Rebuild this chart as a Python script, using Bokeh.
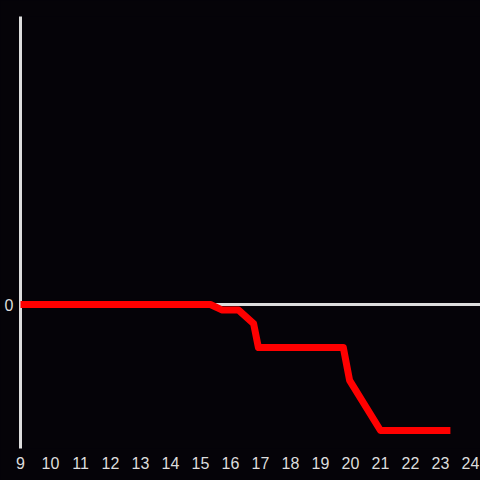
from bokeh.plotting import figure
from bokeh.models import FixedTicker, Span, Range1d
from bokeh.embed import file_html
from bokeh.resources import INLINE

# data (hour of day, value)
hours = [9, 15.33, 15.73, 16.27, 16.77, 16.93, 19.76, 19.97, 21.0, 23.33]
values = [0, 0, -0.31, -0.31, -1.06, -2.39, -2.39, -4.22, -7.0, -7.0]
x_ticks = list(range(9, 25))
y_ticks = [0]

BG = "#050308"
FG = "#dddddd"
FONT = "Liberation Sans"

p = figure(width=480, height=480, output_backend="svg", toolbar_location=None,
           x_range=Range1d(9, 9 + 460 / 30), y_range=Range1d(-8, 16),
           min_border_left=20, min_border_right=0, min_border_top=16, min_border_bottom=32)
p.background_fill_color = BG
p.border_fill_color = BG
p.outline_line_color = None
p.grid.visible = False

p.xaxis.ticker = FixedTicker(ticks=x_ticks)
p.xaxis.axis_line_color = None
p.xaxis.major_tick_line_color = None
p.xaxis.minor_tick_line_color = None
p.xaxis.major_label_text_color = FG
p.xaxis.major_label_text_font = FONT
p.xaxis.major_label_text_font_size = "16px"
p.xaxis.major_label_standoff = 2

p.yaxis.ticker = FixedTicker(ticks=y_ticks)
p.yaxis.axis_line_color = FG
p.yaxis.axis_line_width = 3
p.yaxis.major_tick_line_color = None
p.yaxis.minor_tick_line_color = None
p.yaxis.major_label_text_color = FG
p.yaxis.major_label_text_font = FONT
p.yaxis.major_label_text_font_size = "16px"
p.yaxis.major_label_standoff = 1

p.add_layout(Span(location=0, dimension="width", line_color=FG, line_width=3))

r = p.line(hours, values, line_color="#ff0000", line_width=7, line_join="round")
r.level = "overlay"

html = file_html(p, INLINE)
html = html.replace("<head>", "<head><style>html,body{background:#050308;}</style>", 1)
open("out.html", "w").write(html)
